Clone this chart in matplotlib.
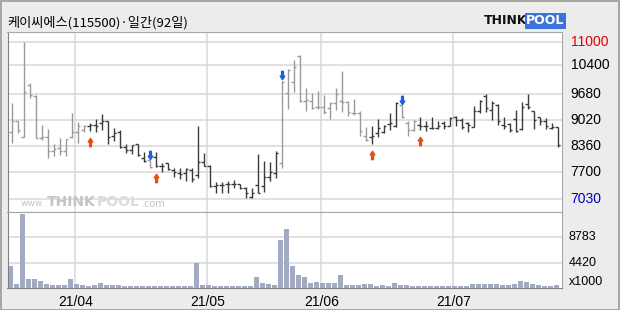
import matplotlib
matplotlib.use('Agg')
from matplotlib import pyplot as plt
from matplotlib.path import Path
from matplotlib.patches import Rectangle
from matplotlib import transforms
import numpy as np

# daily bars, 2021-03-16 .. 2021-07-26 (92 sessions)
opens = [8710, 9010, 8600, 9910, 9630, 8580, 8600, 8240, 8310, 8250,
         8600, 8730, 8770, 8860, 8900, 8940, 9000, 8620, 8730, 8330,
         8270, 8410, 8070, 8010, 8100, 7860, 7930, 7760, 7680, 7680,
         7760, 7640, 7970, 7860, 7360, 7380, 7400, 7420, 7410, 7300,
         7090, 7380, 7360, 7590, 7690, 7930, 9700, 9990, 10640, 9500,
         9510, 9340, 9340, 9320, 9460, 9500, 9490, 9190, 9190, 8620,
         8590, 8700, 8730, 8920, 8860, 9400, 8960, 8770, 8900, 8860,
         8810, 8830, 8960, 8870, 9090, 9020, 8960, 8840, 9260, 9630,
         9280, 9400, 8910, 8920, 9040, 8790, 9440, 9250, 9090, 9010,
         8830, 8840]
highs = [9460, 9010, 11000, 9970, 9650, 8910, 8800, 8410, 8580, 8540,
         9210, 8980, 8900, 8940, 9040, 9170, 9000, 8810, 8770, 8410,
         8390, 8410, 8220, 8010, 8220, 7950, 7950, 7800, 7820, 7820,
         7800, 8870, 8180, 7890, 7470, 7470, 7490, 7510, 7420, 7340,
         7300, 8160, 7990, 7970, 8240, 10010, 10300, 10550, 10660, 9820,
         9710, 9750, 9650, 9490, 9820, 10260, 9500, 9550, 9250, 8840,
         8870, 9040, 8910, 9190, 9490, 9400, 9000, 9020, 9090, 9010,
         9090, 9010, 9010, 9090, 9120, 9070, 8980, 9380, 9530, 9670,
         9500, 9430, 9110, 8940, 9280, 9490, 9670, 9250, 9110, 9070,
         8940, 8840]
lows = [8450, 8700, 8590, 9590, 8560, 8520, 8060, 8110, 8140, 8110,
        8580, 8450, 8730, 8750, 8710, 8770, 8410, 8490, 8310, 8200,
        8170, 8110, 7970, 7800, 7830, 7720, 7760, 7590, 7530, 7490,
        7470, 7550, 7860, 7340, 7190, 7190, 7190, 7300, 7270, 7050,
        7050, 7170, 7210, 7480, 7550, 7820, 9300, 9740, 9490, 9260,
        9300, 9300, 9170, 9050, 9280, 9230, 9120, 9150, 8620, 8490,
        8410, 8600, 8700, 8770, 8840, 9070, 8620, 8750, 8770, 8750,
        8800, 8800, 8790, 8860, 8870, 8790, 8730, 8840, 9190, 9220,
        9020, 8910, 8800, 8730, 8730, 8770, 9300, 8790, 8910, 8790,
        8790, 8330]
closes = [9010, 8770, 9740, 9650, 8560, 8590, 8240, 8290, 8250, 8540,
          8730, 8860, 8860, 8900, 8860, 9010, 8590, 8690, 8330, 8270,
          8390, 8140, 8000, 7830, 7860, 7860, 7780, 7720, 7660, 7780,
          7530, 7970, 7860, 7360, 7380, 7380, 7420, 7410, 7300, 7170,
          7170, 7190, 7590, 7720, 8180, 9990, 10290, 10370, 9500, 9530,
          9330, 9360, 9230, 9460, 9680, 9490, 9230, 9190, 8750, 8520,
          8620, 8810, 8860, 8940, 9460, 9090, 8770, 9010, 8880, 8880,
          8830, 8880, 8880, 9070, 9020, 8840, 8900, 9260, 9510, 9320,
          9460, 9000, 8870, 8770, 8750, 9360, 9360, 9020, 9010, 8860,
          8840, 8390]
volumes = [3770, 630, 12850, 1500, 1500, 1150, 630, 450, 450, 450,
           1500, 630, 450, 280, 450, 800, 510, 510, 510, 280,
           280, 280, 280, 280, 280, 280, 280, 280, 280, 280,
           280, 4350, 450, 450, 280, 280, 280, 280, 280, 280,
           280, 1900, 860, 630, 450, 8300, 10230, 3770, 2200, 1900,
           920, 1030, 860, 860, 920, 2200, 450, 450, 450, 630,
           740, 340, 450, 280, 920, 450, 450, 280, 280, 280,
           280, 280, 280, 280, 280, 280, 280, 740, 630, 630,
           630, 630, 450, 570, 740, 1210, 1030, 630, 450, 340,
           340, 450]
buy_signals = [13, 24, 60, 68]
sell_signals = [23, 45, 65]
month_starts = [11, 33, 52, 74]
month_labels = ['21/04', '21/05', '21/06', '21/07']
price_ticks = [11000, 10400, 9680, 9020, 8360, 7700, 7030]
volume_ticks = [8783, 4420]
title = '케이씨에스(115500)·일간(92일)'

W, H = 620, 310
num_font = ['Liberation Sans Narrow', 'Liberation Sans', 'DejaVu Sans']

fig = plt.figure(figsize=(W / 100, H / 100), dpi=100)
fig.patch.set_facecolor('#ececec')
fig.patches.append(Rectangle((0.5 / W, 0.5 / H), 1 - 1.5 / W, 1 - 1.5 / H,
                             transform=fig.transFigure, fill=False,
                             edgecolor='#9a9a9a', lw=1.2))

ax = fig.add_axes([7.5 / W, 1 - 212 / H, 554.5 / W, 180 / H])
vax = fig.add_axes([7.5 / W, 1 - 288 / H, 554.5 / W, 76 / H])

n = len(opens)
x = np.arange(n)
xlim = (-0.67, 91.75)

# bar colour follows the last signal: dark after buy, grey after sell
cols = []
state = '#9a9a9a'
for i in range(n):
    if i in buy_signals:
        state = '#3a3a3a'
    if i in sell_signals:
        state = '#9a9a9a'
    cols.append(state)

for a in (ax, vax):
    a.set_facecolor('white')
    a.set_xlim(*xlim)
    a.set_xticks([])
    a.set_yticks([])
    for m in month_starts:
        a.axvline(m - 0.5, color='#d9d9d9', lw=1.1, zorder=0)
    for s in a.spines.values():
        s.set_color('#a8a8a8')
    a.spines['left'].set_color('#808080')
    a.spines['bottom'].set_color('#808080')

ax.set_ylim(6702, 11245)
for t in price_ticks:
    ax.axhline(t, color='#d9d9d9', lw=1.1, zorder=0)

ax.vlines(x, lows, highs, colors=cols, lw=1.0, zorder=3)
ax.hlines(opens, x - 0.42, x, colors=cols, lw=1.0, zorder=3)
ax.hlines(closes, x, x + 0.42, colors=cols, lw=1.0, zorder=3)

up = Path([(0, 1), (0.55, 0.15), (0.22, 0.15), (0.22, -1), (-0.22, -1),
           (-0.22, 0.15), (-0.55, 0.15), (0, 1)],
          [Path.MOVETO] + [Path.LINETO] * 6 + [Path.CLOSEPOLY])
down = Path([(px, -py) for px, py in up.vertices], up.codes)
ax.plot(buy_signals, [lows[i] - 280 for i in buy_signals], ls='none',
        marker=up, ms=6, color='#ec4a14', zorder=4)
ax.plot(sell_signals, [highs[i] + 140 for i in sell_signals], ls='none',
        marker=down, ms=6, color='#1e5ee6', zorder=4)

tr = transforms.blended_transform_factory(ax.transAxes, ax.transData)
for t in price_ticks:
    c = 'black'
    if t == max(price_ticks):
        c = '#e60000'
    if t == min(price_ticks):
        c = '#0000c8'
    ax.text(1.0155, t, str(t), transform=tr, color=c, fontsize=10,
            family=num_font, va='center', ha='left')

# watermark
fig.text(21 / W, 1 - 204 / H, 'www.', color='#c4c4c4', fontsize=6.5,
         va='center', ha='left')
fig.text(47 / W, 1 - 202 / H, 'THINK', color='#c4c4c4', fontsize=10,
         fontweight='bold', va='center', ha='left')
fig.text(97 / W, 1 - 202 / H, 'POOL', color='#dcdcdc', fontsize=10,
         fontweight='bold', va='center', ha='left')
fig.text(141 / W, 1 - 204 / H, '.com', color='#c4c4c4', fontsize=7,
         va='center', ha='left')

# volume
vax.set_ylim(0, 13190)
for t in volume_ticks:
    vax.axhline(t, color='#d9d9d9', lw=1.1, zorder=0)
vax.bar(x - 0.1, volumes, width=0.84, color='#a3abc3', zorder=2)
vtr = transforms.blended_transform_factory(vax.transAxes, vax.transData)
for t in volume_ticks:
    vax.text(1.0115, t, str(t), transform=vtr, fontsize=9, family=num_font,
             va='center', ha='left')
vax.text(1.0115, 0.08, 'x1000', transform=vax.transAxes, fontsize=9,
         family=num_font, va='center', ha='left')

for m, lab in zip(month_starts, month_labels):
    vax.text(m - 0.3, -0.19, lab, transform=transforms.blended_transform_factory(
        vax.transData, vax.transAxes), fontsize=10, family=num_font,
        va='center', ha='center')

# title and logo
fig.text(7 / W, 1 - 22.5 / H, title, fontsize=9.5, va='center', ha='left',
         family=['Noto Sans CJK KR', 'DejaVu Sans'])
fig.text(527 / W, 1 - 21 / H, 'THINK', fontsize=9, fontweight='heavy',
         va='center', ha='right', color='#111111')
fig.text(545.5 / W, 1 - 21 / H, 'POOL', fontsize=9, fontweight='bold',
         va='center', ha='center', color='white',
         bbox=dict(boxstyle='square,pad=0.12', fc='#3d72dc', ec='none'))

fig.savefig('out.png', dpi=100, facecolor=fig.get_facecolor())
